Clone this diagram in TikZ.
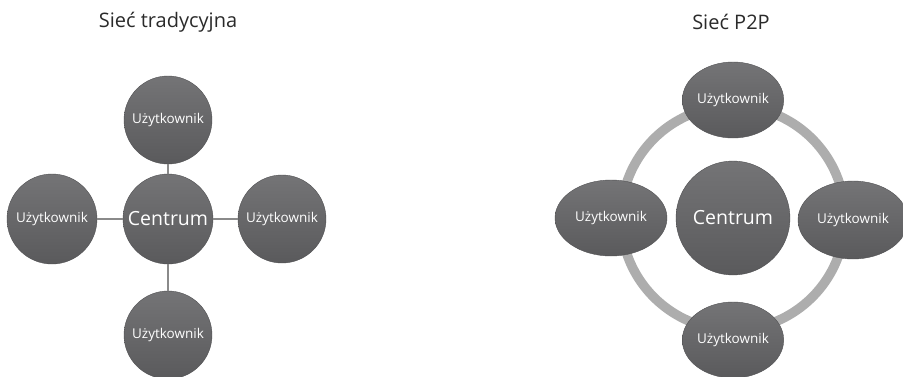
\documentclass[tikz,border=0pt]{standalone}
\usepackage{fontspec}
\setmainfont{Open Sans}
\usetikzlibrary{shapes.geometric}
\definecolor{nodetop}{HTML}{747476}
\definecolor{nodebot}{HTML}{5A5A5C}
\definecolor{linkgray}{HTML}{8A8A8A}
\definecolor{ringgray}{HTML}{ADADAD}
\definecolor{titlecol}{HTML}{2A2A2A}
\begin{document}
\begin{tikzpicture}[x=1pt,y=-1pt,
  ball/.style={circle,inner sep=0pt,top color=nodetop,bottom color=nodebot,draw=nodebot!90!black,line width=0.4pt,text=white},
  oval/.style={ellipse,inner sep=0pt,top color=nodetop,bottom color=nodebot,draw=nodebot!90!black,line width=0.4pt,text=white},
  usertxt/.style={font=\fontsize{13.5}{16}\selectfont},
  centtxt/.style={font=\fontsize{19.5}{23}\selectfont},
  titletxt/.style={font=\fontsize{20}{24}\selectfont,text=titlecol},
  link/.style={draw=linkgray,line width=2pt},
  ring/.style={draw=ringgray,line width=9.5pt}]
\useasboundingbox (0,0) rectangle (903,376);
% left: traditional network
\node[titletxt] (t1) at (168,22) {Sieć tradycyjna};
\node[ball,minimum size=90pt,centtxt] (c1) at (168,219) {Centrum};
\node[ball,minimum size=88pt,usertxt] (u1t) at (168,120) {Użytkownik};
\node[ball,minimum size=90pt,usertxt] (u1l) at (52,219) {Użytkownik};
\node[ball,minimum size=88pt,usertxt] (u1r) at (282,219) {Użytkownik};
\node[ball,minimum size=88pt,usertxt] (u1b) at (168,335) {Użytkownik};
\draw[link] (c1) -- (u1t);
\draw[link] (c1) -- (u1l);
\draw[link] (c1) -- (u1r);
\draw[link] (c1) -- (u1b);
% right: P2P network
\node[titletxt] (t2) at (731,22) {Sieć P2P};
\node[ball,minimum size=114pt,centtxt] (c2) at (733,218) {Centrum};
\draw[ring] (c2.center) circle (112);
\node[oval,minimum width=94pt,minimum height=76pt,usertxt] (u2t) at (733,100) {Użytkownik};
\node[oval,minimum width=112pt,minimum height=76pt,usertxt] (u2l) at (611,218) {Użytkownik};
\node[oval,minimum width=110pt,minimum height=78pt,usertxt] (u2r) at (853,220) {Użytkownik};
\node[oval,minimum width=94pt,minimum height=76pt,usertxt] (u2b) at (733,340) {Użytkownik};
\end{tikzpicture}
\end{document}
